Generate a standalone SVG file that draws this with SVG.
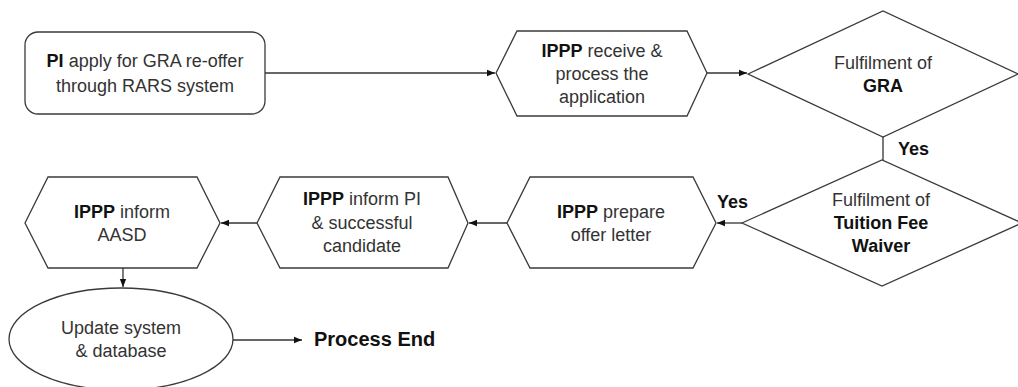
<svg xmlns="http://www.w3.org/2000/svg" width="1018" height="387" viewBox="0 0 1018 387">
<style>
.s{fill:#fff;stroke:#3a3a3a;stroke-width:1.3}
.t{font-family:"Liberation Sans",Arial,sans-serif;font-size:18px;fill:#333;text-anchor:middle}
.b{font-weight:bold;fill:#111}
.c{fill:none;stroke:#333;stroke-width:1.3}
.l{font-family:"Liberation Sans",Arial,sans-serif;font-size:18px;font-weight:bold;fill:#111}
</style>
<defs>
<marker id="a" viewBox="0 0 10 10" refX="10" refY="5" markerWidth="8" markerHeight="8" markerUnits="userSpaceOnUse" orient="auto">
<path d="M0,1 L10,5 L0,9 z" fill="#111"/>
</marker>
</defs>
<g id="connectors">
<line class="c" x1="265" y1="73" x2="495" y2="73" marker-end="url(#a)"/>
<line class="c" x1="707" y1="73" x2="747" y2="73" marker-end="url(#a)"/>
<line class="c" x1="883" y1="137" x2="883" y2="160"/>
<line class="c" x1="742" y1="223" x2="717" y2="223" marker-end="url(#a)"/>
<line class="c" x1="507" y1="223" x2="469" y2="223" marker-end="url(#a)"/>
<line class="c" x1="257" y1="223" x2="221" y2="223" marker-end="url(#a)"/>
<line class="c" x1="123" y1="268" x2="123" y2="287" marker-end="url(#a)"/>
<line class="c" x1="233" y1="340" x2="302" y2="340" marker-end="url(#a)"/>
<text class="l" x="898" y="155">Yes</text>
<text class="l" x="717" y="208">Yes</text>
</g>
<g id="n1">
<rect class="s" x="25" y="32" width="240" height="82" rx="13"/>
<text class="t" x="145" y="67"><tspan class="b">PI</tspan> apply for GRA re-offer</text>
<text class="t" x="145" y="92">through RARS system</text>
</g>
<g id="n2">
<polygon class="s" points="496,73 517,31 687,31 707,73 687,116 517,116"/>
<text class="t" x="602" y="57"><tspan class="b">IPPP</tspan> receive &amp;</text>
<text class="t" x="602" y="80">process the</text>
<text class="t" x="602" y="103">application</text>
</g>
<g id="n3">
<polygon class="s" points="748,74 883,11 1018,74 883,137"/>
<text class="t" x="883" y="69">Fulfilment of</text>
<text class="t b" x="883" y="92">GRA</text>
</g>
<g id="n4">
<polygon class="s" points="742,223 882,160 1022,223 882,286"/>
<text class="t" x="881" y="206">Fulfilment of</text>
<text class="t b" x="881" y="229">Tuition Fee</text>
<text class="t b" x="881" y="252">Waiver</text>
</g>
<g id="n5">
<polygon class="s" points="507,223 530,177 693,177 716,223 693,268 530,268"/>
<text class="t" x="611" y="218"><tspan class="b">IPPP</tspan> prepare</text>
<text class="t" x="611" y="241">offer letter</text>
</g>
<g id="n6">
<polygon class="s" points="257,223 280,177 448,177 468,223 448,268 280,268"/>
<text class="t" x="362" y="205"><tspan class="b">IPPP</tspan> inform PI</text>
<text class="t" x="362" y="229">&amp; successful</text>
<text class="t" x="362" y="252">candidate</text>
</g>
<g id="n7">
<polygon class="s" points="25,223 48,177 197,177 220,223 197,268 48,268"/>
<text class="t" x="122" y="218"><tspan class="b">IPPP</tspan> inform</text>
<text class="t" x="122" y="241">AASD</text>
</g>
<g id="n8">
<ellipse class="s" cx="121" cy="339" rx="112" ry="51"/>
<text class="t" x="121" y="334">Update system</text>
<text class="t" x="121" y="357">&amp; database</text>
</g>
<g id="n9">
<text class="l" x="314" y="346" style="font-size:20px">Process End</text>
</g>
</svg>
